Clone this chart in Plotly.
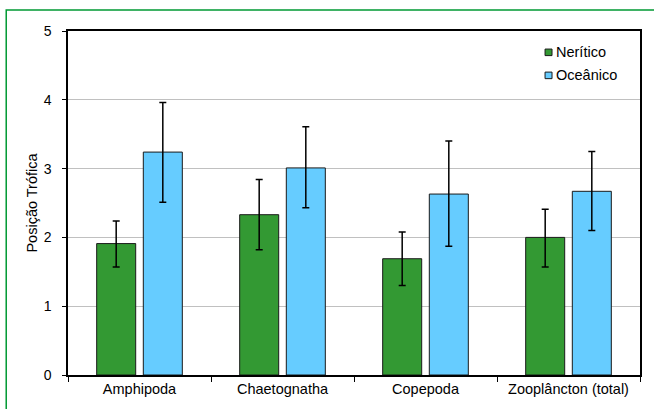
import plotly.graph_objects as go

categories = ["Amphipoda", "Chaetognatha", "Copepoda", "Zooplâncton (total)"]
neritico = [1.91, 2.33, 1.69, 2.00]
neritico_hi = [2.24, 2.84, 2.08, 2.41]
neritico_lo = [1.57, 1.82, 1.30, 1.57]
oceanico = [3.24, 3.01, 2.63, 2.67]
oceanico_hi = [3.96, 3.61, 3.40, 3.25]
oceanico_lo = [2.51, 2.43, 1.87, 2.10]
series_names = ["Nerítico", "Oceânico"]
series_colors = ["#339933", "#66CCFF"]

def err(vals, hi, lo):
    return ([h - v for h, v in zip(hi, vals)], [v - l for v, l in zip(vals, lo)])

fig = go.Figure()
for name, vals, hi, lo, color in [
    (series_names[0], neritico, neritico_hi, neritico_lo, series_colors[0]),
    (series_names[1], oceanico, oceanico_hi, oceanico_lo, series_colors[1]),
]:
    up, down = err(vals, hi, lo)
    fig.add_trace(go.Bar(
        x=categories, y=vals, name=name, showlegend=False,
        marker=dict(color=color, line=dict(color="#1a1a1a", width=1)),
        error_y=dict(type="data", symmetric=False, array=up, arrayminus=down,
                     color="black", thickness=1.5, width=3.5),
    ))

# custom legend (small squares close to text, as in the reference)
shapes = [dict(type="rect", xref="paper", yref="paper",
               x0=-0.108, x1=1.2, y0=-0.3, y1=1.0607,
               line=dict(color="#009933", width=1.5), fillcolor="rgba(0,0,0,0)",
               layer="below")]
annotations = []
leg_y = [0.938, 0.871]
for name, color, yc in zip(series_names, series_colors, leg_y):
    shapes.append(dict(type="rect", xref="paper", yref="paper",
                       x0=0.834, x1=0.8462, y0=yc - 0.0095, y1=yc + 0.0095,
                       line=dict(color="#1a1a1a", width=1), fillcolor=color))
    annotations.append(dict(text=name, xref="paper", yref="paper", x=0.849, y=yc,
                            xanchor="left", yanchor="middle", showarrow=False,
                            font=dict(size=14.5)))

fig.update_layout(
    width=654, height=409,
    margin=dict(l=68, r=13, t=31, b=32),
    paper_bgcolor="white", plot_bgcolor="white",
    font=dict(family="Liberation Sans, Arial, sans-serif", size=14, color="black"),
    barmode="group", bargap=0.348, bargroupgap=0.163,
    showlegend=False,
    xaxis=dict(showline=True, linecolor="black", linewidth=1.5, mirror=True,
               ticks="outside", tickson="boundaries", ticklen=5, tickcolor="black",
               showgrid=False, tickfont=dict(size=14.5)),
    yaxis=dict(range=[0, 5], dtick=1, showline=True, linecolor="black", linewidth=1.5,
               mirror=True, ticks="outside", ticklen=4, tickcolor="black",
               showgrid=True, gridcolor="#C0C0C0", gridwidth=1,
               ticklabelstandoff=8,
               title=dict(text="Posição Trófica", font=dict(size=14.5), standoff=3),
               tickfont=dict(size=14), zeroline=False),
    shapes=shapes,
    annotations=annotations,
)

fig.write_html("out.html", config={"displayModeBar": False},
               post_script="document.body.style.margin='0px';")
